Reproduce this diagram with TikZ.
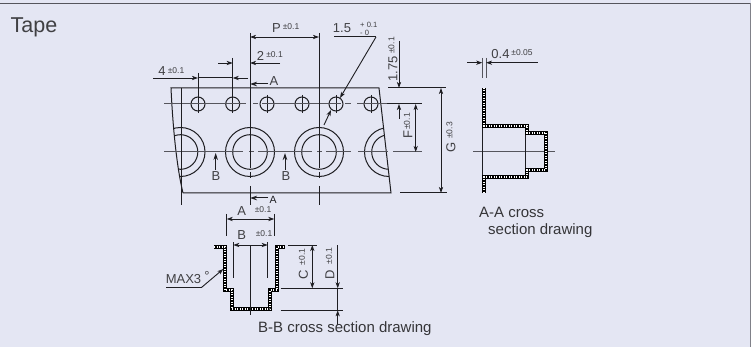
\documentclass[tikz,border=0pt]{standalone}
\usepackage{fontspec}
\setmainfont{Liberation Sans}
\usetikzlibrary{arrows.meta}
\definecolor{bgc}{HTML}{E4E6F3}
\definecolor{ink}{HTML}{1E1E22}
\definecolor{edge}{HTML}{55555C}
\tikzset{
  x=1pt,y=-1pt,
  ln/.style={ink,line width=1pt},
  cl/.style={edge,line width=1pt},
  dim/.style={ink,line width=0.9pt,{Stealth[length=6pt,width=4.2pt,inset=1.6pt]}-{Stealth[length=6pt,width=4.2pt,inset=1.6pt]}},
  ar/.style={ink,line width=0.9pt,-{Stealth[length=6pt,width=4.2pt,inset=1.6pt]}},
  bigar/.style={ink,line width=1pt,-{Stealth[length=7pt,width=4.5pt]}},
  big/.style={inner sep=0,text=ink!85!white,font=\fontsize{13}{13}\selectfont},
  tiny/.style={inner sep=0,text=ink!85!white,font=\fontsize{8.5}{9}\selectfont},
  tiny15/.style={inner sep=0,text=ink!85!white,font=\fontsize{7.6}{7.6}\selectfont},
  cap15/.style={inner sep=0,anchor=west,text=ink!90!white,font=\fontsize{15}{15}\selectfont},
  wallout/.style={black,line width=4.2pt,miter limit=10},
  wallin/.style={white,line width=1.8pt,dash pattern=on 1pt off 1.5pt},
}
\begin{document}
\begin{tikzpicture}
\useasboundingbox (0,0) rectangle (751,347);
\fill[bgc] (0,0) rectangle (751,347);
\draw[edge,line width=1.2pt] (0,3.6) -- (751,3.6);
\draw[edge!70!bgc,line width=1.2pt] (750.4,3) -- (750.4,347);
\node[cap15,font=\fontsize{21.5}{22}\selectfont,text=ink!85!white] (tape) at (10.5,27.5) {Tape};

% tape outline
\draw[ln] (183,193) -- (391,193) -- (379,88) -- (171,88) .. controls (172,110) and (175,160) .. (183,193);
\begin{scope}
\clip (183,193) -- (391,193) -- (379,88) -- (171,88) .. controls (172,110) and (175,160) .. (183,193);
\foreach \cx in {180.5,389}{
  \draw[ln] (\cx,152) circle (24.5);
  \draw[ln] (\cx,152) circle (17.3);
}
\end{scope}
\foreach \cx in {250,319}{
  \draw[ln] (\cx,152) circle (24.5);
  \draw[ln] (\cx,152) circle (17.3);
}
\foreach \cx in {198,232.7,267,302,336,371}{
  \draw[ln] (\cx,104) circle (7);
  \draw[ln] (\cx,95) -- (\cx,113);
}
% center lines
\draw[cl] (164,104) -- (246,104) (253,104) -- (258,104) (262,104) -- (341,104) (345,104) -- (351,104) (357,104) -- (387,104);
\draw[ln] (387,104) -- (422,104);
\draw[cl] (164,152) -- (243,152) (249,152) -- (254,152) (258,152) -- (312,152) (317,152) -- (322,152) (326,152) -- (351,152) (358,152) -- (388,152) (393,152) -- (422,152);
\draw[cl] (473,152) -- (555,152);
% verticals
\draw[ln] (181.7,88) -- (181.7,205);
\draw[ln] (250,33) -- (250,168) (250,172) -- (250,178) (250,186) -- (250,205);
\draw[ln] (319,33) -- (319,168) (319,172) -- (319,178) (319,186) -- (319,205);
\draw[ln] (198,73) -- (198,95);
\draw[ln] (232.7,58) -- (232.7,95);
% dims top
\draw[ar] (153,78) -- (198,78);
\draw[ar] (248,78) -- (232.7,78);
\draw[ln] (198,78) -- (232.7,78);
\draw[ar] (218,63) -- (232.7,63);
\draw[ar] (280,63) -- (250,63);
\draw[dim] (250,37) -- (319,37);
\node[big] (t4) at (162,71) {4};
\node[tiny] (t4t) at (176,70.5) {±0.1};
\node[big] (t2) at (260.5,56) {2};
\node[tiny] (t2t) at (274.5,54.5) {±0.1};
\node[big] (tp) at (276.5,28) {P};
\node[tiny] (tpt) at (291,27) {±0.1};
\draw[bigar] (268,84) -- (250,84);
\node[big] (ta1) at (274,81) {A};
\draw[bigar] (268,198) -- (250,198);
\node[inner sep=0,text=ink,font=\fontsize{10.5}{11}\selectfont] (ta2) at (273,199.5) {A};
\draw[bigar] (215.7,170) -- (215.7,153);
\node[big] (tb1) at (216,176) {B};
\draw[bigar] (285,170) -- (285,153);
\node[big] (tb2) at (286,176) {B};
% 1.5 leader
\draw[ln] (334,37) -- (376,37);
\draw[ar] (376,37) -- (340,98);
\draw[ar] (324,125) -- (331,110);
\node[big] (t15) at (342,28) {1.5};
\node[tiny15,anchor=west] (t15a) at (360,24.5) {+ 0.1};
\node[tiny15,anchor=west] (t15b) at (360,32.8) {- 0};
% right dims
\draw[ln] (388,88) -- (446,88);
\draw[ln] (400,193) -- (447,193);
\draw[ar] (399,41) -- (399,88);
\draw[ar] (399,119) -- (399,104);
\draw[dim] (415.7,104) -- (415.7,152);
\draw[dim] (441,88) -- (441,193);
\node[big,rotate=90] (t175) at (393,69) {1.75};
\node[tiny,rotate=90] (t175t) at (391.5,45.5) {±0.1};
\node[big,rotate=90] (tf) at (408,135) {F};
\node[tiny,rotate=90] (tft) at (407,121.5) {±0.1};
\node[big,rotate=90] (tg) at (451,147) {G};
\node[tiny,rotate=90] (tgt) at (449.5,130.5) {±0.3};
% A-A section
\draw[ln] (482.3,127) -- (482.3,177);
\draw[ln] (525,134) -- (525,170);
\draw[wallout] (484,88) -- (484,126) -- (527,126) -- (527,133) -- (546,133) -- (546,170) -- (527,170) -- (527,177) -- (484,177) -- (484,193);
\draw[wallin] (484,88) -- (484,126) -- (527,126) -- (527,133) -- (546,133) -- (546,170) -- (527,170) -- (527,177) -- (484,177) -- (484,193);
\draw[cl] (482.3,58) -- (482.3,78) (486,58) -- (486,78);
\draw[ar] (467,62.7) -- (482.3,62.7);
\draw[ar] (537.7,62.7) -- (486,62.7);
\node[big] (t04) at (500.5,54.5) {0.4};
\node[tiny] (t04t) at (522,53) {±0.05};
\node[cap15] (caa1) at (479,212) {A-A cross};
\node[cap15] (caa2) at (488,230.5) {section drawing};
% B-B section
\draw[wallout] (214,247) -- (225,247) -- (225,290) -- (232,290) -- (232,309) -- (270,309) -- (270,290) -- (277,290) -- (277,247) -- (285,247);
\draw[wallin] (214,247) -- (225,247) -- (225,290) -- (232,290) -- (232,309) -- (270,309) -- (270,290) -- (277,290) -- (277,247) -- (285,247);
\draw[ln] (250.7,245) -- (250.7,315);
\draw[ln] (226.7,214) -- (226.7,236) (274.3,214) -- (274.3,236);
\draw[ln] (233.3,242) -- (233.3,278) (267.7,242) -- (267.7,278);
\draw[dim] (226.7,219) -- (274.3,219);
\draw[dim] (233.3,245) -- (267.7,245);
\node[big] (tA) at (241.7,211.5) {A};
\node[tiny] (tAt) at (263,210) {±0.1};
\node[big] (tB) at (241.7,235) {B};
\node[tiny] (tBt) at (264,234) {±0.1};
\draw[ln] (288.3,245) -- (316.7,245);
\draw[ln] (280.7,288.3) -- (342.7,288.3);
\draw[ln] (280.7,310.3) -- (342.7,310.3);
\draw[dim] (312.3,245) -- (312.3,288.3);
\draw[ar] (337.7,245) -- (337.7,288.3);
\draw[ln] (337.7,288.3) -- (337.7,310.3);
\draw[ar] (337.7,325) -- (337.7,310.3);
\node[big,rotate=90] (tC) at (303.5,275) {C};
\node[tiny,rotate=90] (tCt) at (302,257) {±0.1};
\node[big,rotate=90] (tD) at (330,275) {D};
\node[tiny,rotate=90] (tDt) at (329,256) {±0.1};
\draw[ln] (166,287.3) -- (201.7,287.3);
\draw[ar] (201.7,287.3) -- (223.3,269);
\node[big] (tmax) at (183.5,279) {MAX3};
\node[big] (tdeg) at (207,276) {°};
\node[cap15] (cbb) at (258,329) {B-B cross section drawing};
\end{tikzpicture}
\end{document}
